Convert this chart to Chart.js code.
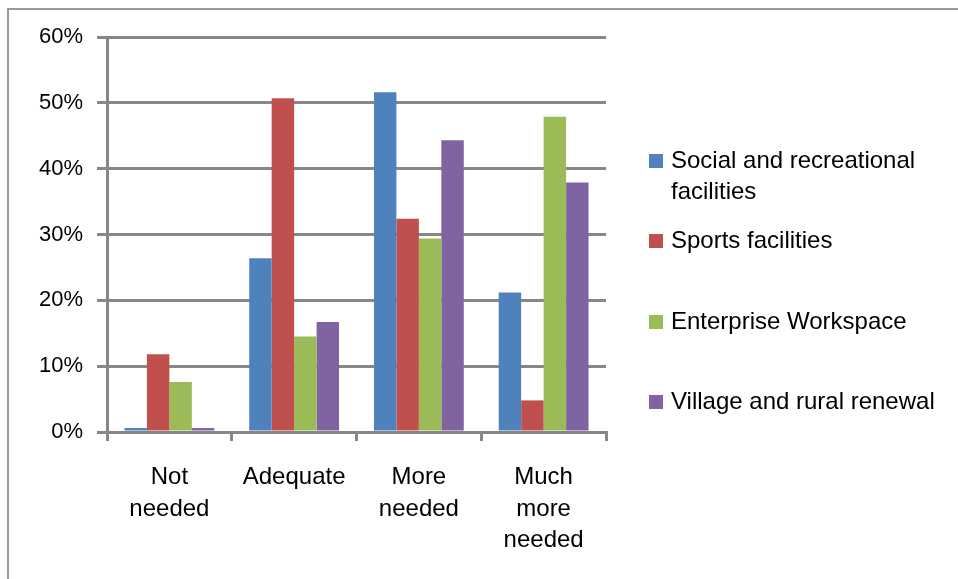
<!DOCTYPE html>
<html>
<head>
<meta charset="utf-8">
<script src="https://cdn.jsdelivr.net/npm/chart.js@4/dist/chart.umd.min.js"></script>
<style>
  html, body { margin: 0; padding: 0; background: #fff; }
  #wrap { position: relative; width: 958px; height: 579px; }
  #frame { position: absolute; left: 7px; top: 8px; right: 0; bottom: 0; border-top: 2px solid #9a9a9a; border-left: 2px solid #9a9a9a; }
  canvas { position: absolute; left: 0; top: 0; }
</style>
</head>
<body>
<div id="wrap">
  <div id="frame"></div>
  <canvas id="c" width="958" height="579"></canvas>
</div>
<script>
const categories = [['Not', 'needed'], ['Adequate'], ['More', 'needed'], ['Much', 'more', 'needed']];
const seriesNames = [['Social and recreational', 'facilities'], ['Sports facilities'], ['Enterprise Workspace'], ['Village and rural renewal']];
const socialRecreational = [0.6, 26.4, 51.6, 21.2];
const sportsFacilities = [11.8, 50.7, 32.4, 4.8];
const enterpriseWorkspace = [7.6, 14.5, 29.4, 47.9];
const villageRural = [0.6, 16.7, 44.3, 37.9];
const yTicks = [0, 10, 20, 30, 40, 50, 60];
const colors = ['#4F81BD', '#C0504D', '#9BBB59', '#8064A2'];

const gridColor = '#878787';
const FONT = '"Liberation Sans", Arial, sans-serif';

const customLegend = {
  id: 'customLegend',
  afterDraw(chart) {
    const ctx = chart.ctx;
    const rowsY = [161, 241, 322, 402];
    ctx.save();
    ctx.font = '24px ' + FONT;
    ctx.textBaseline = 'middle';
    ctx.textAlign = 'left';
    chart.data.datasets.forEach((ds, i) => {
      const y = rowsY[i];
      ctx.fillStyle = ds.backgroundColor;
      ctx.fillRect(649, y - 7, 14, 14);
      ctx.fillStyle = '#000';
      const lines = seriesNames[i];
      lines.forEach((t, j) => ctx.fillText(t, 671, y + j * 31));
    });
    ctx.restore();
  }
};

new Chart(document.getElementById('c'), {
  type: 'bar',
  data: {
    labels: categories,
    datasets: [
      { label: seriesNames[0].join(' '), data: socialRecreational, backgroundColor: colors[0] },
      { label: seriesNames[1].join(' '), data: sportsFacilities, backgroundColor: colors[1] },
      { label: seriesNames[2].join(' '), data: enterpriseWorkspace, backgroundColor: colors[2] },
      { label: seriesNames[3].join(' '), data: villageRural, backgroundColor: colors[3] }
    ]
  },
  options: {
    responsive: false,
    animation: false,
    devicePixelRatio: 1,
    categoryPercentage: 0.72,
    barPercentage: 1.0,
    layout: { padding: { left: 0, top: 37, right: 352, bottom: 0 } },
    plugins: { legend: { display: false }, tooltip: { enabled: false } },
    scales: {
      x: {
        grid: { drawOnChartArea: false, drawTicks: true, tickLength: 9, offset: true, color: gridColor, lineWidth: 3 },
        border: { color: gridColor, width: 3 },
        ticks: { color: '#000', font: { family: FONT, size: 24, lineHeight: 1.33 }, padding: 20, maxRotation: 0, autoSkip: false },
        afterFit(scale) { scale.height = 579 - 432; }
      },
      y: {
        min: 0, max: 60,
        afterBuildTicks(scale) { scale.ticks = yTicks.map(v => ({ value: v })); },
        grid: { color: gridColor, lineWidth: 3, tickLength: 10, drawTicks: true },
        border: { color: gridColor, width: 3 },
        ticks: { color: '#000', font: { family: FONT, size: 22 }, padding: 14, callback: v => v + '%' },
        afterFit(scale) { scale.width = 107; }
      }
    }
  },
  plugins: [customLegend]
});
</script>
</body>
</html>
